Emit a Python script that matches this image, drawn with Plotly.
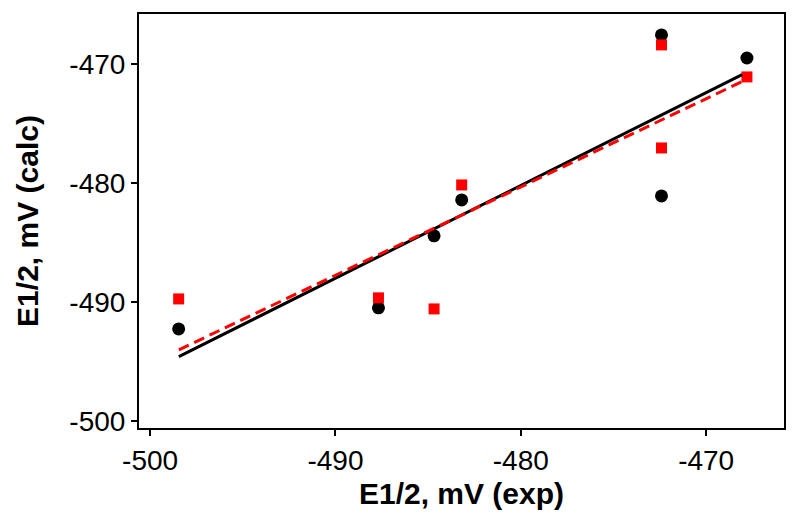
import plotly.graph_objects as go

# Experimental E1/2 (x) values
x_exp = [-498.46, -487.68, -484.68, -483.19, -472.41, -472.41, -467.80]
# Calculated E1/2, black circles
y_calc_black = [-492.27, -490.50, -484.45, -481.43, -467.56, -481.09, -469.50]
# Calculated E1/2, red squares
y_calc_red = [-489.75, -489.66, -490.59, -480.17, -468.40, -477.06, -471.09]

# Fit lines
fit_x = [-498.45, -468.06]
fit_black_y = [-494.60, -470.90]
fit_red_y = [-494.03, -471.48]

tick_vals = [-500, -490, -480, -470]
tick_text = ["-500", "-490", "-480", "-470"]

FONT = "Liberation Sans, Arial, sans-serif"

fig = go.Figure()
fig.add_trace(go.Scatter(x=x_exp, y=y_calc_black, mode="markers",
                         marker=dict(symbol="circle", size=13, color="black"),
                         showlegend=False))
fig.add_trace(go.Scatter(x=x_exp, y=y_calc_red, mode="markers",
                         marker=dict(symbol="square", size=11, color="#ff0000"),
                         showlegend=False))
fig.add_trace(go.Scatter(x=fit_x, y=fit_black_y, mode="lines",
                         line=dict(color="black", width=3),
                         showlegend=False))
fig.add_trace(go.Scatter(x=fit_x, y=fit_red_y, mode="lines",
                         line=dict(color="#ff0000", width=3, dash="11px,6px"),
                         showlegend=False))

axis_common = dict(
    range=[-500.6, -465.8],
    tickvals=tick_vals, ticktext=tick_text,
    showline=True, linecolor="black", linewidth=2, mirror=True,
    ticks="outside", ticklen=6, tickwidth=1.5, tickcolor="black",
    showgrid=False, zeroline=False, automargin=False,
    tickfont=dict(family=FONT, size=28, color="black"),
)

fig.update_layout(
    width=792, height=517,
    margin=dict(l=131, r=16, t=6, b=97),
    paper_bgcolor="white", plot_bgcolor="white",
    xaxis=dict(**axis_common,
               title=dict(text="<b>E1/2, mV (exp)</b>",
                          font=dict(family=FONT, size=30, color="black"),
                          standoff=8)),
    yaxis=dict(**axis_common,
               title=dict(text="<b>E1/2, mV (calc)</b>",
                          font=dict(family=FONT, size=30, color="black"),
                          standoff=22)),
)

fig.write_html("out.html")
